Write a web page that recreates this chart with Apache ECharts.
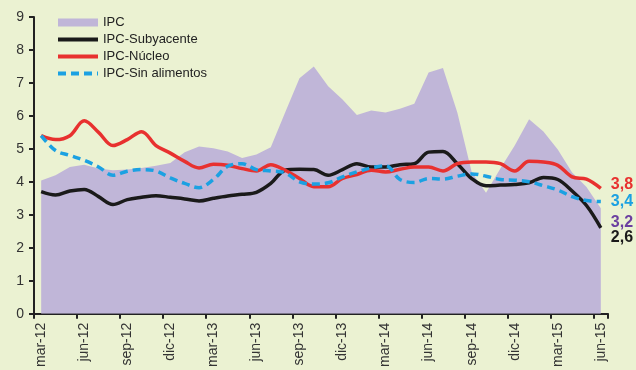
<!DOCTYPE html>
<html>
<head>
<meta charset="utf-8">
<script src="https://cdn.jsdelivr.net/npm/echarts@6/dist/echarts.min.js"></script>
<style>
  html, body { margin: 0; padding: 0; background: #ebf2d2; }
  #chart { width: 636px; height: 370px; }
</style>
</head>
<body>
<div id="chart"></div>
<script>
// Monthly inflation measures, % year on year
const months = [
  'mar-12','abr-12','may-12','jun-12','jul-12','ago-12','sep-12','oct-12','nov-12','dic-12',
  'ene-13','feb-13','mar-13','abr-13','may-13','jun-13','jul-13','ago-13','sep-13','oct-13',
  'nov-13','dic-13','ene-14','feb-14','mar-14','abr-14','may-14','jun-14','jul-14','ago-14',
  'sep-14','oct-14','nov-14','dic-14','ene-15','feb-15','mar-15','abr-15','may-15','jun-15'
];

const ipc = [
  4.04, 4.2, 4.45, 4.52, 4.4, 4.35, 4.37, 4.42, 4.49, 4.57,
  4.9, 5.07, 5.02, 4.92, 4.72, 4.83, 5.05, 6.1, 7.14, 7.5,
  6.9, 6.5, 6.03, 6.16, 6.1, 6.22, 6.37, 7.32, 7.45, 6.1,
  4.3, 3.67, 4.4, 5.1, 5.9, 5.53, 4.98, 4.28, 3.84, 3.2
];

const subyacente = [
  3.7, 3.6, 3.72, 3.77, 3.55, 3.31, 3.46, 3.53, 3.58, 3.53,
  3.48, 3.42, 3.5, 3.57, 3.62, 3.68, 3.95, 4.35, 4.38, 4.37,
  4.2, 4.37, 4.55, 4.45, 4.45, 4.52, 4.55, 4.9, 4.92, 4.55,
  4.1, 3.88, 3.9, 3.92, 3.97, 4.13, 4.07, 3.72, 3.28, 2.6
];

const nucleo = [
  5.4, 5.28, 5.4, 5.85, 5.5, 5.1, 5.28, 5.52, 5.1, 4.87,
  4.62, 4.42, 4.53, 4.5, 4.4, 4.33, 4.52, 4.35, 4.1, 3.85,
  3.85, 4.1, 4.22, 4.35, 4.3, 4.38, 4.45, 4.45, 4.33, 4.55,
  4.6, 4.6, 4.55, 4.33, 4.62, 4.6, 4.5, 4.15, 4.08, 3.8
];

const sinAlimentos = [
  5.4, 4.95, 4.8, 4.65, 4.45, 4.2, 4.32, 4.37, 4.33, 4.12,
  3.95, 3.82, 4.07, 4.47, 4.55, 4.37, 4.33, 4.27, 4.0, 3.93,
  3.97, 4.15, 4.3, 4.42, 4.49, 4.07, 3.98, 4.1, 4.08, 4.17,
  4.24, 4.17, 4.07, 4.05, 4.0, 3.88, 3.75, 3.55, 3.43, 3.4
];

const yTicks = [0, 1, 2, 3, 4, 5, 6, 7, 8, 9];

const FONT = 'Liberation Sans, Arial, sans-serif';
const fmt = v => Number(v).toFixed(1).replace('.', ',');

// bold value label at the end of a series
function endLabel(color, dy) {
  return {
    show: true,
    distance: 10,
    offset: [0, dy],
    formatter: p => fmt(p.value),
    color: color,
    fontFamily: FONT,
    fontSize: 16,
    fontWeight: 'bold'
  };
}

// legend entry for a line series: thick stroke, no marker
function lineEntry(name, dashed) {
  return {
    name: name,
    itemStyle: { opacity: 0 },
    lineStyle: { width: 4, type: dashed ? [8, 5] : 'solid' }
  };
}

const chart = echarts.init(document.getElementById('chart'), null, { renderer: 'canvas' });

chart.setOption({
  animation: false,
  backgroundColor: '#ebf2d2',
  grid: { left: 34, right: 28, top: 17, bottom: 55, containLabel: false },
  legend: {
    orient: 'vertical',
    left: 51,
    top: 11,
    itemWidth: 40,
    itemHeight: 8,
    itemGap: 4,
    textStyle: { fontFamily: FONT, fontSize: 13, color: '#222' },
    data: [
      { name: 'IPC', icon: 'rect' },
      lineEntry('IPC-Subyacente', false),
      lineEntry('IPC-Núcleo', false),
      lineEntry('IPC-Sin alimentos', true)
    ]
  },
  xAxis: {
    type: 'category',
    data: months,
    boundaryGap: true,
    axisLine: { lineStyle: { color: '#222', width: 2 } },
    axisTick: { show: true, length: 5, interval: i => i % 3 === 0, lineStyle: { color: '#222', width: 2 } },
    axisLabel: {
      interval: i => i % 3 === 0,
      rotate: 90,
      margin: 9,
      fontFamily: FONT,
      fontSize: 14,
      color: '#333'
    },
    splitLine: { show: false }
  },
  yAxis: {
    type: 'value',
    min: yTicks[0],
    max: yTicks[yTicks.length - 1],
    interval: 1,
    axisLine: { show: true, lineStyle: { color: '#222', width: 2 } },
    axisTick: { show: true, length: 5, lineStyle: { color: '#222', width: 2 } },
    axisLabel: { margin: 10, fontFamily: FONT, fontSize: 14, color: '#333' },
    splitLine: { show: false }
  },
  series: [
    {
      name: 'IPC',
      type: 'line',
      data: ipc,
      symbol: 'none',
      lineStyle: { width: 0, color: '#c0b6d8' },
      itemStyle: { color: '#c0b6d8' },
      areaStyle: { color: '#c0b6d8', opacity: 1 },
      endLabel: endLabel('#6b3fa0', 14),
      z: 1
    },
    {
      name: 'IPC-Subyacente',
      type: 'line',
      data: subyacente,
      symbol: 'none',
      smooth: 0.35,
      lineStyle: { width: 3.5, color: '#1a1a1a' },
      itemStyle: { color: '#1a1a1a' },
      endLabel: endLabel('#1a1a1a', 10),
      z: 3
    },
    {
      name: 'IPC-Núcleo',
      type: 'line',
      data: nucleo,
      symbol: 'none',
      smooth: 0.35,
      lineStyle: { width: 3.5, color: '#e8312f' },
      itemStyle: { color: '#e8312f' },
      endLabel: endLabel('#e8312f', -4),
      z: 4
    },
    {
      name: 'IPC-Sin alimentos',
      type: 'line',
      data: sinAlimentos,
      symbol: 'none',
      smooth: 0.35,
      lineStyle: { width: 3.5, color: '#1ba1e2', type: [8, 5] },
      itemStyle: { color: '#1ba1e2' },
      endLabel: endLabel('#1ba1e2', 0),
      z: 5
    }
  ]
});
</script>
</body>
</html>
